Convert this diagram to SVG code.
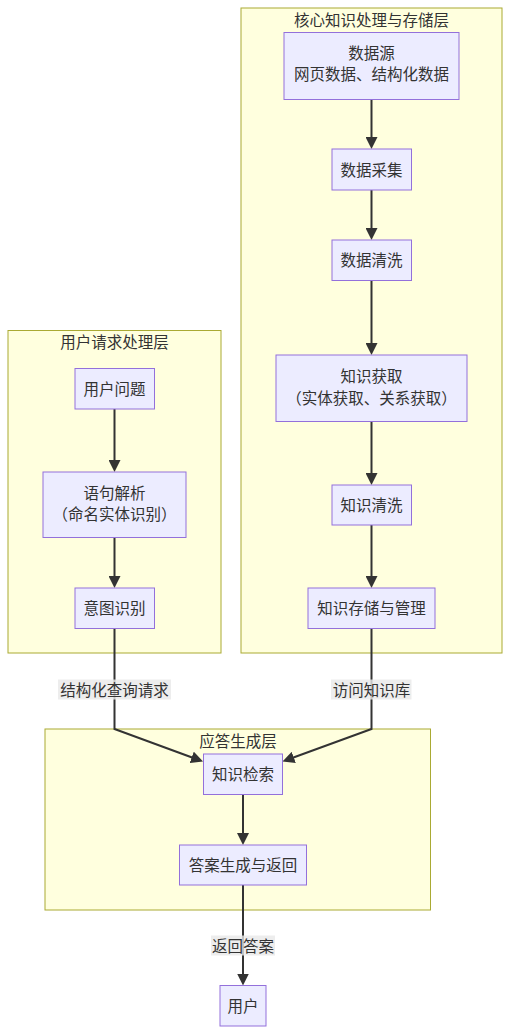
<svg xmlns="http://www.w3.org/2000/svg" width="510" height="1034" viewBox="0 0 510 1034">
<style>
.cluster rect{fill:#ffffde;stroke:#aaaa33;stroke-width:1}
.node rect{fill:#ECECFF;stroke:#9370DB;stroke-width:1}
text{font-family:"Noto Sans CJK SC","Liberation Sans",sans-serif;font-size:15.5px;fill:#333;text-anchor:middle;dominant-baseline:central}
.edge{fill:none;stroke:#333;stroke-width:2}
.lbl rect{fill:#e8e8e8;opacity:0.8}
</style>
<defs>
<marker id="arr" markerUnits="userSpaceOnUse" viewBox="0 0 12 12" markerWidth="12" markerHeight="12" refX="4" refY="6" orient="auto">
<path d="M0,0 L12,6 L0,12 z" fill="#333"/>
</marker>
</defs>
<rect width="510" height="1034" fill="#ffffff"/>
<g id="cluster-core" class="cluster"><rect x="241" y="8" width="261" height="645"/><text x="371.5" y="18.5">核心知识处理与存储层</text></g>
<g id="cluster-user" class="cluster"><rect x="8" y="330.5" width="213" height="322.5"/><text x="114.5" y="340.5">用户请求处理层</text></g>
<g id="cluster-answer" class="cluster"><rect x="45" y="729" width="385.5" height="181"/><text x="238" y="740">应答生成层</text></g>
<g id="connectors">
<path class="edge" d="M371.5,99.5 V141" marker-end="url(#arr)"/>
<path class="edge" d="M371.5,190 V232" marker-end="url(#arr)"/>
<path class="edge" d="M371.5,280.5 V347" marker-end="url(#arr)"/>
<path class="edge" d="M371.5,421.5 V477" marker-end="url(#arr)"/>
<path class="edge" d="M371.5,525 V580" marker-end="url(#arr)"/>
<path class="edge" d="M114.5,409 V464" marker-end="url(#arr)"/>
<path class="edge" d="M114.5,537.5 V580" marker-end="url(#arr)"/>
<path class="edge" d="M114.5,628.5 V729 L195.5,758.7" marker-end="url(#arr)"/>
<path class="edge" d="M371.5,628.5 V729 L290,758.8" marker-end="url(#arr)"/>
<path class="edge" d="M243,794.5 V837" marker-end="url(#arr)"/>
<path class="edge" d="M243,885 V977.5" marker-end="url(#arr)"/>
<g class="lbl"><rect x="58" y="679.5" width="113" height="20"/><text x="114.5" y="689">结构化查询请求</text></g>
<g class="lbl"><rect x="331" y="679.5" width="80.5" height="20"/><text x="371.5" y="689">访问知识库</text></g>
<g class="lbl"><rect x="211" y="935.5" width="64" height="20"/><text x="243" y="945">返回答案</text></g>
</g>
<g id="n-source" class="node"><rect x="284" y="32.5" width="175" height="67"/><text x="371.5" y="52">数据源</text><text x="371.5" y="73">网页数据、结构化数据</text></g>
<g id="n-collect" class="node"><rect x="332" y="149" width="79.5" height="41"/><text x="371.5" y="168.5">数据采集</text></g>
<g id="n-clean" class="node"><rect x="332" y="240" width="79.5" height="40.5"/><text x="371.5" y="259">数据清洗</text></g>
<g id="n-acquire" class="node"><rect x="276" y="355" width="191" height="66.5"/><text x="371.5" y="375">知识获取</text><text x="371.5" y="396.5">（实体获取、关系获取）</text></g>
<g id="n-kclean" class="node"><rect x="332" y="485" width="79.5" height="40"/><text x="371.5" y="504">知识清洗</text></g>
<g id="n-store" class="node"><rect x="308" y="588" width="127" height="40.5"/><text x="371.5" y="607">知识存储与管理</text></g>
<g id="n-question" class="node"><rect x="75" y="368.5" width="79.5" height="40.5"/><text x="114.5" y="387.5">用户问题</text></g>
<g id="n-parse" class="node"><rect x="43" y="472" width="143" height="65.5"/><text x="114.5" y="491.5">语句解析</text><text x="114.5" y="513">（命名实体识别）</text></g>
<g id="n-intent" class="node"><rect x="75" y="588" width="79.5" height="40.5"/><text x="114.5" y="607">意图识别</text></g>
<g id="n-retrieve" class="node"><rect x="203.5" y="754" width="79" height="40.5"/><text x="243" y="773">知识检索</text></g>
<g id="n-answer" class="node"><rect x="179.5" y="845" width="127" height="40"/><text x="243" y="864">答案生成与返回</text></g>
<g id="n-user" class="node"><rect x="220" y="985.5" width="46" height="40.5"/><text x="243" y="1004.5">用户</text></g>
</svg>
